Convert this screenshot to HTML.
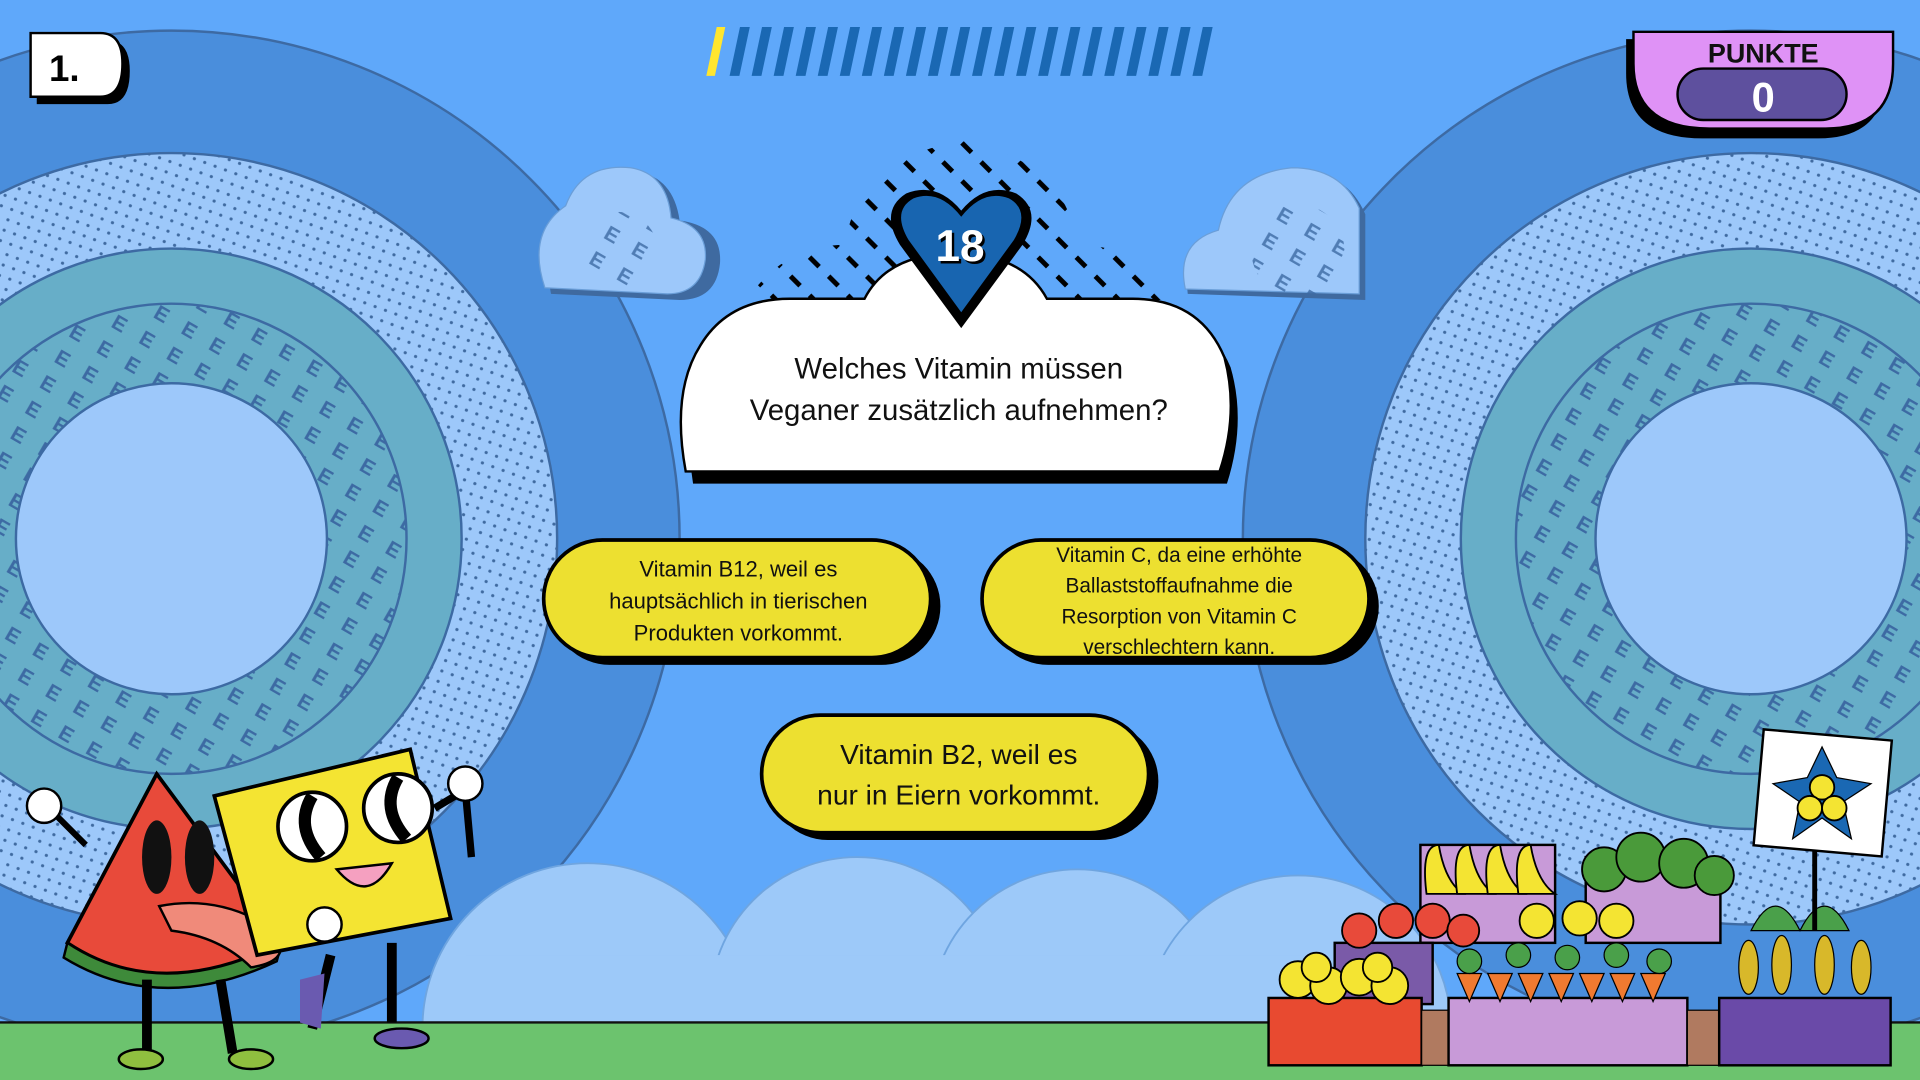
<!DOCTYPE html>
<html><head><meta charset="utf-8"><style>
html,body{margin:0;padding:0;width:1920px;height:1080px;overflow:hidden;background:#5fa8fa}
svg{display:block;position:absolute;left:0;top:0}
text{font-family:"Liberation Sans","DejaVu Sans",sans-serif}
</style></head><body>
<svg width="1920" height="1080" viewBox="0 0 1568 882" xmlns="http://www.w3.org/2000/svg">
<defs>
<pattern id="dots" width="9" height="9" patternUnits="userSpaceOnUse" patternTransform="rotate(20)"><circle cx="4.5" cy="4.5" r="1.3" fill="#3f6aa0"/></pattern>
<pattern id="ees" width="26" height="24" patternUnits="userSpaceOnUse" patternTransform="rotate(30)"><text x="3" y="18" font-size="17" font-weight="bold" fill="#3d6aa3">E</text></pattern>
<pattern id="dash" width="22" height="22" patternUnits="userSpaceOnUse" patternTransform="rotate(45)"><rect x="0" y="9" width="11" height="4" fill="#000"/></pattern>
</defs>
<rect width="1568" height="882" fill="#5fa8fa"/>
<g>
<circle cx="140" cy="440" r="415" fill="#4a8edc" stroke="#3d6aa3" stroke-width="2"/>
<circle cx="140" cy="440" r="315" fill="#9dc8fa" stroke="#3d6aa3" stroke-width="2"/>
<circle cx="140" cy="440" r="315" fill="url(#dots)"/>
<circle cx="140" cy="440" r="237" fill="#67aec8" stroke="#3d6aa3" stroke-width="2"/>
<circle cx="140" cy="440" r="192" fill="url(#ees)" stroke="#3d6aa3" stroke-width="2"/>
<circle cx="140" cy="440" r="127" fill="#9dc8fa" stroke="#3d6aa3" stroke-width="2"/>
</g>
<g>
<circle cx="1430" cy="440" r="415" fill="#4a8edc" stroke="#3d6aa3" stroke-width="2"/>
<circle cx="1430" cy="440" r="315" fill="#9dc8fa" stroke="#3d6aa3" stroke-width="2"/>
<circle cx="1430" cy="440" r="315" fill="url(#dots)"/>
<circle cx="1430" cy="440" r="237" fill="#67aec8" stroke="#3d6aa3" stroke-width="2"/>
<circle cx="1430" cy="440" r="192" fill="url(#ees)" stroke="#3d6aa3" stroke-width="2"/>
<circle cx="1430" cy="440" r="127" fill="#9dc8fa" stroke="#3d6aa3" stroke-width="2"/>
</g>
<g fill="#9dc9f9" stroke="#6fa5e0" stroke-width="1.5">
<circle cx="480" cy="840" r="135"/>
<circle cx="700" cy="820" r="120"/>
<circle cx="880" cy="830" r="120"/>
<circle cx="1060" cy="840" r="125"/>
<rect x="380" y="780" width="780" height="60" stroke="none"/>
</g>
<rect x="0" y="835" width="1568" height="47" fill="#6cc36e"/>
<line x1="0" y1="835" x2="1568" y2="835" stroke="#111" stroke-width="2"/>
<g>
<path d="M450 240 Q440 190 470 170 Q480 135 520 140 Q550 145 555 180 Q590 185 588 215 Q585 245 555 245 Z" fill="#3f6aa0"/>
<path d="M445 235 Q430 190 462 168 Q475 133 515 137 Q545 142 548 178 Q578 185 576 212 Q572 240 545 240 Z" fill="#9dc8fa" stroke="#6a9ed8"/>
<circle cx="505" cy="205" r="32" fill="url(#ees)" opacity=".8"/>
</g>
<g>
<path d="M970 240 Q965 200 1000 192 Q1010 145 1060 140 Q1100 140 1115 175 L1115 245 Z" fill="#3f6aa0"/>
<path d="M968 236 Q960 198 995 188 Q1005 142 1055 137 Q1095 137 1110 170 L1110 240 Z" fill="#9dc8fa" stroke="#6a9ed8"/>
<circle cx="1060" cy="205" r="38" fill="url(#ees)" opacity=".8"/>
</g>
<path d="M610 245 Q640 200 690 200 Q700 130 785 115 Q870 130 880 200 Q930 200 955 245 Z" fill="url(#dash)"/>
<path d="M566 395 Q556 330 578 290 Q600 250 650 252 L712 252 Q730 215 785 215 Q840 215 860 252 L930 252 Q985 252 1005 300 Q1018 345 1002 395 Z" fill="#000"/>
<path d="M560 385 Q548 320 572 282 Q595 244 645 244 L706 244 Q725 207 780 207 Q835 207 855 244 L925 244 Q980 244 1000 292 Q1012 337 996 385 Z" fill="#fff" stroke="#000" stroke-width="2"/>
<text x="783" y="309" font-size="24" text-anchor="middle" fill="#111">Welches Vitamin müssen</text>
<text x="783" y="343" font-size="24" text-anchor="middle" fill="#111">Veganer zusätzlich aufnehmen?</text>
<path d="M785 268 L735 200 Q718 172 740 158 Q765 148 785 172 Q805 148 830 158 Q852 172 835 200 Z" fill="#000"/>
<path d="M785 255 L742 196 Q728 172 746 162 Q767 154 785 177 Q803 154 824 162 Q842 172 828 196 Z" fill="#1865b0"/>
<text x="786" y="215" font-size="36" font-weight="bold" text-anchor="middle" fill="#000">18</text>
<text x="784" y="213" font-size="36" font-weight="bold" text-anchor="middle" fill="#fff">18</text>
<g>
<rect x="450" y="447" width="318" height="96" rx="48" fill="#000"/>
<rect x="444" y="441" width="316" height="96" rx="48" fill="#ede030" stroke="#000" stroke-width="3"/>
<text x="603" y="471" font-size="18" text-anchor="middle" fill="#111">Vitamin B12, weil es</text>
<text x="603" y="497" font-size="18" text-anchor="middle" fill="#111">hauptsächlich in tierischen</text>
<text x="603" y="523" font-size="18" text-anchor="middle" fill="#111">Produkten vorkommt.</text>
</g>
<g>
<rect x="808" y="447" width="318" height="96" rx="48" fill="#000"/>
<rect x="802" y="441" width="316" height="96" rx="48" fill="#ede030" stroke="#000" stroke-width="3"/>
<text x="963" y="459" font-size="17" text-anchor="middle" fill="#111">Vitamin C, da eine erhöhte</text>
<text x="963" y="484" font-size="17" text-anchor="middle" fill="#111">Ballaststoffaufnahme die</text>
<text x="963" y="509" font-size="17" text-anchor="middle" fill="#111">Resorption von Vitamin C</text>
<text x="963" y="534" font-size="17" text-anchor="middle" fill="#111">verschlechtern kann.</text>
</g>
<g>
<rect x="628" y="590" width="318" height="96" rx="48" fill="#000"/>
<rect x="622" y="584" width="316" height="96" rx="48" fill="#ede030" stroke="#000" stroke-width="3"/>
<text x="783" y="624" font-size="23" text-anchor="middle" fill="#111">Vitamin B2, weil es</text>
<text x="783" y="657" font-size="23" text-anchor="middle" fill="#111">nur in Eiern vorkommt.</text>
</g>
<path d="M30 33 L88 33 Q106 33 106 58 Q106 85 88 85 L30 85 Z" fill="#000"/>
<path d="M25 27 L82 27 Q100 27 100 52 Q100 79 82 79 L25 79 Z" fill="#fff" stroke="#000" stroke-width="2"/>
<text x="40" y="66" font-size="30" font-weight="bold" fill="#000">1.</text>
<g transform="skewX(-12)">
<rect x="590" y="22" width="7" height="40" fill="#ffe62e"/>
<g fill="#1a68b3">
<rect x="609" y="22" width="8" height="40"/><rect x="627" y="22" width="8" height="40"/><rect x="645" y="22" width="8" height="40"/><rect x="663" y="22" width="8" height="40"/><rect x="681" y="22" width="8" height="40"/><rect x="699" y="22" width="8" height="40"/><rect x="717" y="22" width="8" height="40"/><rect x="735" y="22" width="8" height="40"/><rect x="753" y="22" width="8" height="40"/><rect x="771" y="22" width="8" height="40"/><rect x="789" y="22" width="8" height="40"/><rect x="807" y="22" width="8" height="40"/><rect x="825" y="22" width="8" height="40"/><rect x="843" y="22" width="8" height="40"/><rect x="861" y="22" width="8" height="40"/><rect x="879" y="22" width="8" height="40"/><rect x="897" y="22" width="8" height="40"/><rect x="915" y="22" width="8" height="40"/><rect x="933" y="22" width="8" height="40"/><rect x="951" y="22" width="8" height="40"/><rect x="969" y="22" width="8" height="40"/><rect x="987" y="22" width="8" height="40"/>
</g></g>
<path d="M1328 32 L1540 32 L1540 60 Q1540 113 1485 113 L1390 113 Q1328 113 1328 60 Z" fill="#000"/>
<path d="M1334 26 L1546 26 L1546 52 Q1546 105 1491 105 L1396 105 Q1334 105 1334 52 Z" fill="#df92f6" stroke="#000" stroke-width="2"/>
<text x="1440" y="51" font-size="22" font-weight="bold" text-anchor="middle" fill="#111">PUNKTE</text>
<rect x="1370" y="56" width="138" height="42" rx="21" fill="#5e509e" stroke="#000" stroke-width="2"/>
<text x="1440" y="91" font-size="34" font-weight="bold" text-anchor="middle" fill="#fff" font-family="Liberation Mono">0</text>
<path d="M128 632 L55 770 Q130 820 230 770 Z" fill="#e84a3a" stroke="#000" stroke-width="3"/>
<path d="M55 770 Q130 820 230 770 L226 785 Q130 830 52 782 Z" fill="#3e8a3a" stroke="#000" stroke-width="2"/>
<ellipse cx="128" cy="700" rx="12" ry="30" fill="#111"/><ellipse cx="163" cy="700" rx="12" ry="30" fill="#111"/>
<path d="M130 740 Q180 730 225 760 Q240 785 205 790 Q180 765 140 760 Z" fill="#f08a7a" stroke="#000" stroke-width="2"/>
<path d="M70 690 L40 660" stroke="#000" stroke-width="5"/><circle cx="36" cy="658" r="14" fill="#fff" stroke="#000" stroke-width="2"/>
<path d="M120 800 L120 860 M180 800 L190 860" stroke="#000" stroke-width="8"/>
<ellipse cx="115" cy="865" rx="18" ry="8" fill="#8fbf3f" stroke="#000" stroke-width="2"/><ellipse cx="205" cy="865" rx="18" ry="8" fill="#8fbf3f" stroke="#000" stroke-width="2"/>
<path d="M175 650 L335 612 L368 750 L210 780 Z" fill="#f4e432" stroke="#000" stroke-width="3"/>
<circle cx="255" cy="675" r="28" fill="#fff" stroke="#000" stroke-width="3"/><circle cx="325" cy="660" r="28" fill="#fff" stroke="#000" stroke-width="3"/>
<path d="M255 650 Q240 675 262 700" stroke="#000" stroke-width="10" fill="none"/><path d="M325 635 Q310 660 332 685" stroke="#000" stroke-width="10" fill="none"/>
<path d="M275 710 Q300 740 320 705 Z" fill="#f5a0c0" stroke="#000" stroke-width="2"/>
<path d="M355 660 L380 645 L385 700" stroke="#000" stroke-width="6" fill="none"/><circle cx="380" cy="640" r="14" fill="#fff" stroke="#000" stroke-width="2"/>
<path d="M270 780 L255 840 M320 770 L320 835" stroke="#000" stroke-width="8"/>
<path d="M245 800 L265 795 L262 840 L245 835 Z" fill="#6a5ab0"/><ellipse cx="328" cy="848" rx="22" ry="8" fill="#6a5ab0" stroke="#000" stroke-width="2"/>
<circle cx="265" cy="755" r="14" fill="#fff" stroke="#000" stroke-width="2"/>
<rect x="1160" y="690" width="110" height="80" fill="#c89ad8" stroke="#000" stroke-width="2"/>
<rect x="1295" y="700" width="110" height="70" fill="#c89ad8" stroke="#000" stroke-width="2"/>
<g fill="#f4e432" stroke="#000" stroke-width="1.5">
<path d="M1165 730 Q1160 690 1175 690 Q1180 720 1195 730 Z"/><path d="M1190 730 Q1185 690 1200 690 Q1205 720 1220 730 Z"/><path d="M1215 730 Q1210 690 1225 690 Q1230 720 1245 730 Z"/><path d="M1240 730 Q1235 690 1250 690 Q1255 720 1270 730 Z"/>
</g>
<g fill="#4a9a3a" stroke="#000" stroke-width="1.5"><circle cx="1310" cy="710" r="18"/><circle cx="1340" cy="700" r="20"/><circle cx="1375" cy="705" r="20"/><circle cx="1400" cy="715" r="16"/></g>
<rect x="1090" y="770" width="80" height="50" fill="#7a5aa8" stroke="#000" stroke-width="2"/>
<g fill="#e84a3a" stroke="#000" stroke-width="1.5"><circle cx="1110" cy="760" r="14"/><circle cx="1140" cy="752" r="14"/><circle cx="1170" cy="752" r="14"/><circle cx="1195" cy="760" r="13"/></g>
<g fill="#f4e432" stroke="#000" stroke-width="1.5"><circle cx="1255" cy="752" r="14"/><circle cx="1290" cy="750" r="14"/><circle cx="1320" cy="752" r="14"/></g>
<rect x="1036" y="815" width="125" height="55" fill="#e84a30" stroke="#000" stroke-width="2"/>
<g fill="#f4e432" stroke="#000" stroke-width="1.5"><circle cx="1060" cy="800" r="15"/><circle cx="1085" cy="805" r="15"/><circle cx="1110" cy="798" r="15"/><circle cx="1135" cy="805" r="15"/><circle cx="1075" cy="790" r="12"/><circle cx="1125" cy="790" r="12"/></g>
<rect x="1161" y="825" width="22" height="45" fill="#b07a60" stroke="#000"/>
<rect x="1183" y="815" width="195" height="55" fill="#c89ad8" stroke="#000" stroke-width="2"/>
<g fill="#f07a30" stroke="#000" stroke-width="1"><path d="M1190 795 L1200 818 L1210 795Z"/><path d="M1215 795 L1225 818 L1235 795Z"/><path d="M1240 795 L1250 818 L1260 795Z"/><path d="M1265 795 L1275 818 L1285 795Z"/><path d="M1290 795 L1300 818 L1310 795Z"/><path d="M1315 795 L1325 818 L1335 795Z"/><path d="M1340 795 L1350 818 L1360 795Z"/></g>
<g fill="#4aa04a" stroke="#000" stroke-width="1"><circle cx="1200" cy="785" r="10"/><circle cx="1240" cy="780" r="10"/><circle cx="1280" cy="782" r="10"/><circle cx="1320" cy="780" r="10"/><circle cx="1355" cy="785" r="10"/></g>
<rect x="1378" y="825" width="26" height="45" fill="#b07a60" stroke="#000"/>
<rect x="1404" y="815" width="140" height="55" fill="#6a4aa8" stroke="#000" stroke-width="2"/>
<g fill="#d8b82a" stroke="#000" stroke-width="1"><ellipse cx="1428" cy="790" rx="8" ry="22"/><ellipse cx="1455" cy="788" rx="8" ry="24"/><ellipse cx="1490" cy="788" rx="8" ry="24"/><ellipse cx="1520" cy="790" rx="8" ry="22"/></g>
<g fill="#4aa04a" stroke="#000" stroke-width="1"><path d="M1430 760 Q1450 720 1470 760Z"/><path d="M1470 760 Q1490 720 1510 760Z"/></g>
<line x1="1482" y1="690" x2="1482" y2="760" stroke="#000" stroke-width="4"/>
<rect x="1436" y="600" width="105" height="95" fill="#fff" stroke="#000" stroke-width="2" transform="rotate(5 1488 648)"/>
<path d="M1488 610 L1500 635 L1528 640 L1505 655 L1512 685 L1488 668 L1464 685 L1470 655 L1448 640 L1476 635 Z" fill="#1a68b3" stroke="#000"/>
<g fill="#f4e432" stroke="#000" stroke-width="1.5"><circle cx="1488" cy="643" r="10"/><circle cx="1478" cy="660" r="10"/><circle cx="1498" cy="660" r="10"/></g>
</svg>
</body></html>
